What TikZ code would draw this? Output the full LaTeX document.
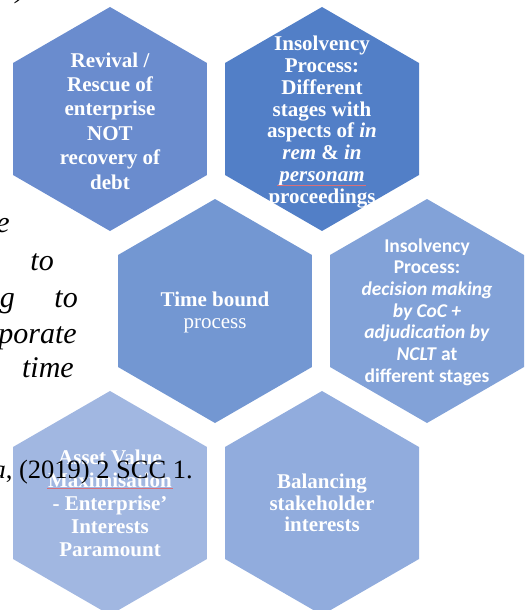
\documentclass[tikz,border=0pt]{standalone}
\usepackage{fontspec}
\setmainfont{Liberation Serif}
\newfontfamily\calibrifont{Carlito}
\usepackage{xcolor}
\usetikzlibrary{positioning}
\usetikzlibrary{shapes.geometric}
\definecolor{hexA}{HTML}{6A8CCE}
\definecolor{hexB}{HTML}{527FC7}
\definecolor{hexC}{HTML}{7397D2}
\definecolor{hexD}{HTML}{82A2D8}
\definecolor{hexE}{HTML}{A1B7E1}
\definecolor{hexF}{HTML}{91ACDD}
\definecolor{spellred}{HTML}{D9707A}

\begin{document}
\begin{tikzpicture}[x=1pt,y=-1pt,
  hexa/.style={regular polygon,regular polygon sides=6,regular polygon rotate=30,minimum size=224pt,inner sep=0pt,draw=none},
  hexlbl/.style={text=white,align=center,inner sep=0pt},
  bodytxt/.style={inner sep=0pt,font=\fontsize{30}{36}\selectfont\itshape}]
\useasboundingbox (0,0) rectangle (525,610);
%hexagons
\node[hexa,fill=hexA] (revival) at (110,119) {};
\node[hexa,fill=hexB] (stages) at (322,119) {};
\node[hexa,fill=hexC] (timebound) at (215,311) {};
\node[hexa,fill=hexD] (coc) at (427,311) {};
\node[hexa,fill=hexE] (asset) at (110,503) {};
\node[hexa,fill=hexF] (balance) at (322,503) {};
%labels
\node[hexlbl,font=\bfseries\fontsize{21}{24.4}\selectfont] (revivaltxt) at ([yshift=-2pt]revival.center) {Revival /\\Rescue of\\enterprise\\NOT\\recovery of\\debt};
\node[hexlbl,font=\bfseries\fontsize{21}{21.9}\selectfont] (stagestxt) at ([yshift=-3pt]stages.center) {Insolvency\\Process:\\Different\\stages with\\aspects of \textit{in}\\\textit{rem} \& \textit{in}\\\textit{personam}\\proceedings};
\node[hexlbl,font=\fontsize{21}{22}\selectfont] (timeboundtxt) at ([yshift=-1pt]timebound.center) {\textbf{Time bound}\\process};
\node[hexlbl,font=\calibrifont\bfseries\fontsize{19.5}{21.7}\selectfont] (coctxt) at ([yshift=-1pt]coc.center) {Insolvency\\Process:\\\textit{decision making}\\\textit{by CoC +}\\\textit{adjudication by}\\\textit{NCLT} at\\different stages};
\node[hexlbl,font=\bfseries\fontsize{21}{23}\selectfont] (assettxt) at (asset) {Asset Value\\Maximisation\\- Enterprise’\\Interests\\Paramount};
\node[hexlbl,font=\bfseries\fontsize{21}{21.5}\selectfont] (balancetxt) at (balance) {Balancing\\stakeholder\\interests};
%spell check marks
\draw[spellred,line width=0.7pt] (277,185)--(366,185);
\draw[spellred,line width=0.7pt] (47,488)--(173,488);
%page text behind
\node[bodytxt,anchor=base east] (frag0) at (26,-2.5) {)};
\node[bodytxt,anchor=base east] (frag1) at (10,232) {e};
\node[bodytxt,anchor=base east] (frag2) at (54,270) {to};
\node[bodytxt,anchor=base east] (frag3) at (15,307) {g};
\node[bodytxt,anchor=base east] (frag4) at (78,307) {to};
\node[bodytxt,anchor=base east] (frag5) at (77,343) {porate};
\node[bodytxt,anchor=base east] (frag6) at (74,377) {time};
\node[bodytxt,anchor=base east,font=\fontsize{26.5}{32}\selectfont] (frag7) at (193,478) {\textit{a},~(2019) 2 SCC 1.};
\end{tikzpicture}
\end{document}
